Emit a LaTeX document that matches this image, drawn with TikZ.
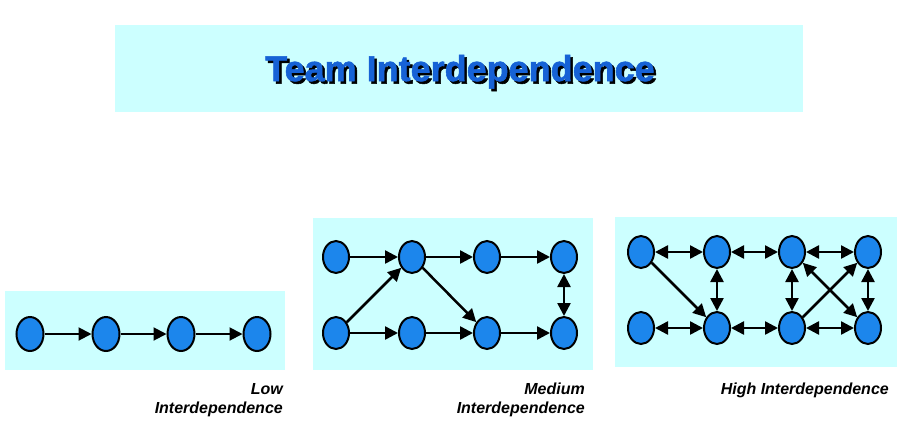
\documentclass[tikz,border=0pt]{standalone}
\usepackage{fontspec}
\setmainfont{Liberation Sans}
\newfontfamily\titlefont[FakeBold=1.5]{Liberation Sans Bold}
\usetikzlibrary{arrows.meta,shapes.geometric}
\definecolor{panelcyan}{RGB}{204,255,255}
\definecolor{dotblue}{RGB}{28,134,236}
\definecolor{titleblue}{RGB}{22,98,214}
\tikzset{
  dot/.style={ellipse,draw=black,line width=2pt,fill=dotblue,
              minimum width=26pt,minimum height=32pt,inner sep=0pt},
  oneway/.style={line width=2.5pt,-{Triangle[length=13pt,width=13pt]}},
  twoway/.style={line width=2.5pt,{Triangle[length=13pt,width=13pt]}-{Triangle[length=13pt,width=13pt]}},
  panellabel/.style={font=\fontsize{16}{19}\selectfont\bfseries\itshape,
                     align=right,inner sep=0pt,anchor=north east}
}
\newcommand\shadowtext[1]{\rlap{\hspace{2.5pt}\raisebox{-2.5pt}{\color{black}#1}}#1}
\begin{document}
\begin{tikzpicture}[x=1pt,y=-1pt]
\useasboundingbox (0,0) rectangle (905,432);
% title
\fill[panelcyan] (115,25) rectangle (803,112);
\node[text=titleblue] (title) at (460,73)
  {\titlefont\fontsize{36}{40}\selectfont\shadowtext{Team Interdependence}};
% low
\fill[panelcyan] (5,291) rectangle (285,370);
\foreach \x [count=\i] in {30,106,181,257}
  \node[dot,minimum width=27pt,minimum height=34pt] (l\i) at (\x,334) {};
\foreach \i/\j in {1/2,2/3,3/4}
  \draw[oneway,line width=2pt] (l\i) -- (l\j);
\node[panellabel] (lowlabel) at (283,383) {Low\\Interdependence};
% medium
\fill[panelcyan] (313,218) rectangle (593,370);
\foreach \x [count=\i] in {336,412,487,564} {
  \node[dot] (mt\i) at (\x,257) {};
  \node[dot] (mb\i) at (\x,333) {};
}
\foreach \a/\b in {mt1/mt2,mt2/mt3,mt3/mt4,mb1/mb2,mb2/mb3,mb3/mb4,mb1/mt2,mt2/mb3}
  \draw[oneway] (\a) -- (\b);
\draw[twoway] (mt4) -- (mb4);
\node[panellabel] (medlabel) at (585,383) {Medium\\Interdependence};
% high
\fill[panelcyan] (615,217) rectangle (897,367);
\foreach \x [count=\i] in {641,717,792,868} {
  \node[dot] (ht\i) at (\x,252) {};
  \node[dot] (hb\i) at (\x,328) {};
}
\foreach \a/\b in {ht1/ht2,ht2/ht3,ht3/ht4,hb1/hb2,hb2/hb3,hb3/hb4,ht2/hb2,ht3/hb3,ht4/hb4,ht3/hb4}
  \draw[twoway] (\a) -- (\b);
\foreach \a/\b in {ht1/hb2,hb3/ht4}
  \draw[oneway] (\a) -- (\b);
\node[panellabel] (highlabel) at (889,383) {High Interdependence};
\end{tikzpicture}
\end{document}
